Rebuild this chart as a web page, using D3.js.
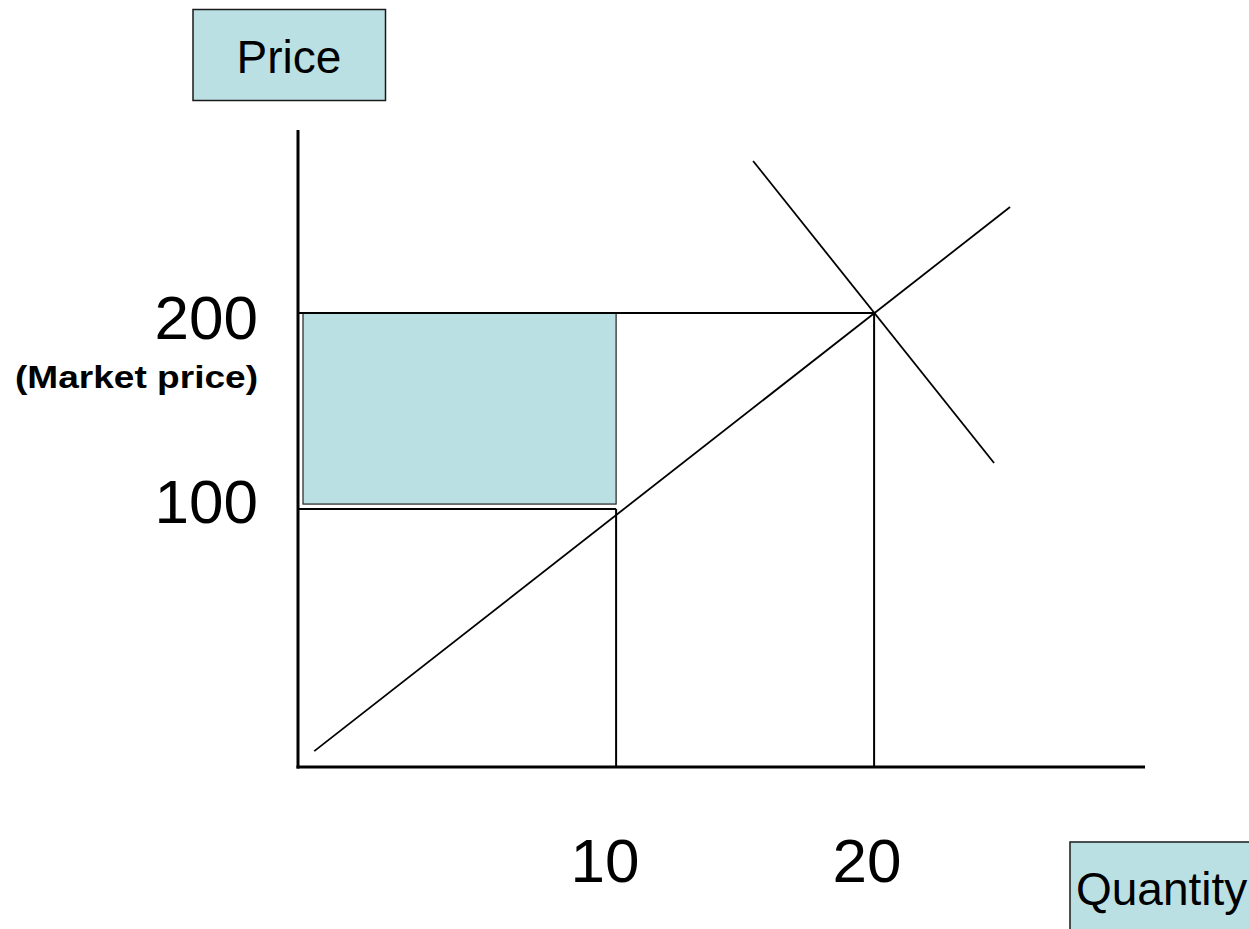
<!DOCTYPE html>
<html>
<head>
<meta charset="utf-8">
<script src="https://cdn.jsdelivr.net/npm/d3@7"></script>
<style>
  html, body { margin: 0; padding: 0; background: #ffffff; }
  svg { display: block; font-family: "Liberation Sans", Arial, Helvetica, sans-serif; }
</style>
</head>
<body>
<svg id="chart" width="1249" height="929"></svg>
<script>
// Axis extents (quantity, price)
const quantityExtent = [-2.33, 30.5];
const priceExtent = [-31.6, 293.4];

// Market outcome and the lower price reference
const marketPrice = 200;
const lowPrice = 100;
const lowQuantity = 10;
const marketQuantity = 20;

// Supply and demand curve end points
const supplyCurve = [{ q: -1.7, p: -23.5 }, { q: 25.27, p: 254.1 }];
const demandCurve = [{ q: 15.31, p: 277.6 }, { q: 24.65, p: 123.5 }];

// Axis labels
const priceTicks = [200, 100];
const priceTickLabels = ["200", "100"];
const quantityTicks = [10, 20];
const quantityTickLabels = ["10", "20"];
const priceNote = "(Market price)";
const yTitle = "Price";
const xTitle = "Quantity";

const fillColor = "#bbe0e3";
const svg = d3.select("#chart");

const x = d3.scaleLinear().domain(quantityExtent).range([298, 1145]);
const y = d3.scaleLinear().domain(priceExtent).range([767, 130]);

const line = d3.line().x(d => x(d.q)).y(d => y(d.p));

// Shaded area between the two price levels, up to the lower quantity
svg.append("rect")
  .attr("x", x(quantityExtent[0]) + 5)
  .attr("y", y(marketPrice))
  .attr("width", x(lowQuantity) - x(quantityExtent[0]) - 5)
  .attr("height", y(lowPrice) - y(marketPrice) - 5)
  .attr("fill", fillColor)
  .attr("stroke", "#222")
  .attr("stroke-width", 1.2);

// Guide lines
const guides = [
  [{ q: quantityExtent[0], p: marketPrice }, { q: marketQuantity, p: marketPrice }],
  [{ q: quantityExtent[0], p: lowPrice }, { q: lowQuantity, p: lowPrice }],
  [{ q: lowQuantity, p: lowPrice }, { q: lowQuantity, p: priceExtent[0] }],
  [{ q: marketQuantity, p: marketPrice }, { q: marketQuantity, p: priceExtent[0] }]
];
svg.selectAll("path.guide").data(guides).join("path")
  .attr("class", "guide")
  .attr("d", line)
  .attr("fill", "none")
  .attr("stroke", "#000")
  .attr("stroke-width", 2);

// Supply and demand
svg.selectAll("path.curve").data([supplyCurve, demandCurve]).join("path")
  .attr("class", "curve")
  .attr("d", line)
  .attr("fill", "none")
  .attr("stroke", "#000")
  .attr("stroke-width", 1.8);

// Axes
svg.append("line")
  .attr("x1", x(quantityExtent[0])).attr("x2", x(quantityExtent[0]))
  .attr("y1", y(priceExtent[1])).attr("y2", y(priceExtent[0]) + 1.5)
  .attr("stroke", "#000").attr("stroke-width", 3);
svg.append("line")
  .attr("x1", x(quantityExtent[0]) - 1.5).attr("x2", x(quantityExtent[1]))
  .attr("y1", y(priceExtent[0])).attr("y2", y(priceExtent[0]))
  .attr("stroke", "#000").attr("stroke-width", 3);

// Price tick labels
const priceLabelDy = [26, 14];
svg.selectAll("text.ptick").data(priceTicks).join("text")
  .attr("class", "ptick")
  .attr("x", 258)
  .attr("y", (d, i) => y(d) + priceLabelDy[i])
  .attr("text-anchor", "end")
  .attr("font-size", 62)
  .attr("fill", "#000")
  .text((d, i) => priceTickLabels[i]);

svg.append("text")
  .attr("x", 15)
  .attr("y", y(marketPrice) + 75)
  .attr("font-size", 32)
  .attr("font-weight", "bold")
  .attr("textLength", 243)
  .attr("lengthAdjust", "spacingAndGlyphs")
  .attr("fill", "#000")
  .text(priceNote);

// Quantity tick labels
const quantityLabelDx = [-11, -7];
svg.selectAll("text.qtick").data(quantityTicks).join("text")
  .attr("class", "qtick")
  .attr("x", (d, i) => x(d) + quantityLabelDx[i])
  .attr("y", y(priceExtent[0]) + 115)
  .attr("text-anchor", "middle")
  .attr("font-size", 62)
  .attr("fill", "#000")
  .text((d, i) => quantityTickLabels[i]);

// Axis title boxes
const priceBox = svg.append("g");
priceBox.append("rect")
  .attr("x", 193).attr("y", 9.5).attr("width", 192.5).attr("height", 91)
  .attr("fill", fillColor).attr("stroke", "#1a1a1a").attr("stroke-width", 1.5);
priceBox.append("text")
  .attr("x", 289).attr("y", 73)
  .attr("text-anchor", "middle")
  .attr("font-size", 46)
  .attr("fill", "#000")
  .text(yTitle);

const qtyBox = svg.append("g");
qtyBox.append("rect")
  .attr("x", 1070).attr("y", 842).attr("width", 200).attr("height", 120)
  .attr("fill", fillColor).attr("stroke", "#1a1a1a").attr("stroke-width", 1.5);
qtyBox.append("text")
  .attr("x", 1076).attr("y", 905)
  .attr("font-size", 46)
  .attr("fill", "#000")
  .text(xTitle);
</script>
</body>
</html>
